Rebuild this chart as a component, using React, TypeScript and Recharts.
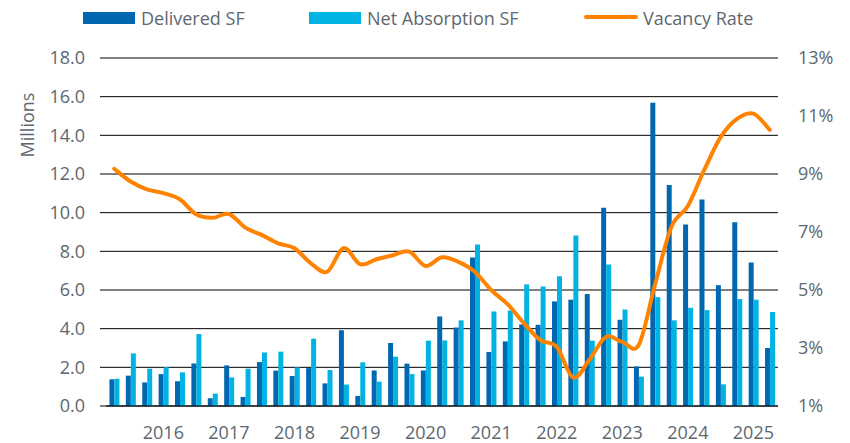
import React from 'react';
import { ComposedChart, Bar, Line, XAxis, YAxis, CartesianGrid } from 'recharts';

const quarters = [
  '2015Q2','2015Q3','2015Q4',
  '2016Q1','2016Q2','2016Q3','2016Q4',
  '2017Q1','2017Q2','2017Q3','2017Q4',
  '2018Q1','2018Q2','2018Q3','2018Q4',
  '2019Q1','2019Q2','2019Q3','2019Q4',
  '2020Q1','2020Q2','2020Q3','2020Q4',
  '2021Q1','2021Q2','2021Q3','2021Q4',
  '2022Q1','2022Q2','2022Q3','2022Q4',
  '2023Q1','2023Q2','2023Q3','2023Q4',
  '2024Q1','2024Q2','2024Q3','2024Q4',
  '2025Q1','2025Q2',
];

const deliveredSF = [
  1.38, 1.57, 1.22, 1.65, 1.28, 2.2, 0.4, 2.1, 0.47, 2.27,
  1.83, 1.55, 1.96, 1.17, 3.92, 0.52, 1.84, 3.26, 2.19, 1.84,
  4.63, 4.06, 7.68, 2.79, 3.34, 4.22, 4.2, 5.41, 5.5, 5.79,
  10.25, 4.46, 2.05, 15.69, 11.43, 9.39, 10.68, 6.25, 9.5, 7.42, 3.0,
];

const netAbsorptionSF = [
  1.41, 2.72, 1.93, 2.01, 1.74, 3.72, 0.64, 1.48, 1.93, 2.77,
  2.81, 2.0, 3.48, 1.86, 1.11, 2.26, 1.26, 2.55, 1.65, 3.38,
  3.39, 4.43, 8.35, 4.89, 4.94, 6.29, 6.18, 6.71, 8.82, 3.38,
  7.32, 4.99, 1.52, 5.63, 4.43, 5.08, 4.96, 1.12, 5.53, 5.5, 4.86,
];

const vacancyRate = [
  9.18, 8.74, 8.47, 8.34, 8.13, 7.61, 7.49, 7.62, 7.15, 6.9,
  6.61, 6.44, 5.92, 5.63, 6.45, 5.89, 6.06, 6.2, 6.32, 5.83,
  6.13, 5.97, 5.63, 5.0, 4.51, 3.85, 3.27, 3.04, 1.98, 2.6,
  3.38, 3.21, 3.1, 5.2, 7.18, 7.9, 9.14, 10.27, 10.9, 11.08, 10.52,
];

const leftTicks = [0, 2, 4, 6, 8, 10, 12, 14, 16, 18];
const rightTicks = [1, 3, 5, 7, 9, 11, 13];

const data = quarters.map((q, i) => ({
  q,
  delivered: deliveredSF[i],
  absorption: netAbsorptionSF[i],
  vacancy: vacancyRate[i],
}));

const DARK = '#0067B1';
const LIGHT = '#00B3E3';
const ORANGE = '#FF8200';
const TEXT = '#5d6770';
const FONT = '"Open Sans", sans-serif';

// Catmull-Rom style smoothing (like Excel smoothed lines)
const smoothCurve: any = (context: any) => {
  let pts: number[][] = [];
  return {
    areaStart() {},
    areaEnd() {},
    lineStart() {
      pts = [];
    },
    point(x: number, y: number) {
      pts.push([+x, +y]);
    },
    lineEnd() {
      if (!pts.length) return;
      context.moveTo(pts[0][0], pts[0][1]);
      const t = 1 / 6;
      for (let i = 0; i < pts.length - 1; i++) {
        const p0 = pts[i - 1] || pts[i];
        const p1 = pts[i];
        const p2 = pts[i + 1];
        const p3 = pts[i + 2] || p2;
        context.bezierCurveTo(
          p1[0] + (p2[0] - p0[0]) * t,
          p1[1] + (p2[1] - p0[1]) * t,
          p2[0] - (p3[0] - p1[0]) * t,
          p2[1] - (p3[1] - p1[1]) * t,
          p2[0],
          p2[1]
        );
      }
    },
  };
};

const legendText: React.CSSProperties = {
  position: 'absolute',
  top: 5,
  fontFamily: FONT,
  fontSize: 18,
  color: TEXT,
  lineHeight: '26px',
  whiteSpace: 'nowrap',
};

export default function App() {
  return (
    <div style={{ position: 'absolute', left: 0, top: 0, width: 850, height: 443, background: '#fff' }}>
      <div style={{ position: 'absolute', left: 83, top: 12, width: 52, height: 12, background: DARK }} />
      <div style={{ ...legendText, left: 141 }}>Delivered SF</div>
      <div style={{ position: 'absolute', left: 309, top: 12, width: 52, height: 12, background: LIGHT }} />
      <div style={{ ...legendText, left: 367 }}>Net Absorption SF</div>
      <div style={{ position: 'absolute', left: 584, top: 15, width: 54, height: 4, borderRadius: 2, background: ORANGE }} />
      <div style={{ ...legendText, left: 643 }}>Vacancy Rate</div>

      <ComposedChart
        width={850}
        height={443}
        data={data}
        margin={{ top: 58, right: 0, bottom: 0, left: 0 }}
        barGap={0}
        barCategoryGap="21%"
        style={{ position: 'absolute', left: 0, top: 0 }}
      >
        <CartesianGrid yAxisId="left" vertical={false} horizontal stroke="#000" strokeWidth={1} />
        <XAxis
          dataKey="q"
          height={37}
          interval={0}
          tickLine={false}
          axisLine={{ stroke: '#000' }}
          tickMargin={14}
          tick={{ fill: TEXT, fontSize: 18, fontFamily: FONT }}
          tickFormatter={(v: string) => (v.endsWith('Q1') ? v.slice(0, 4) : '')}
        />
        <YAxis
          yAxisId="left"
          orientation="left"
          width={106}
          domain={[0, 18]}
          ticks={leftTicks}
          interval={0}
          axisLine={false}
          tickLine={{ stroke: '#000' }}
          tickSize={6}
          tickMargin={15}
          tick={{ fill: TEXT, fontSize: 18, fontFamily: FONT }}
          tickFormatter={(v: number) => v.toFixed(1)}
          label={{
            content: () => (
              <text
                x={34}
                y={125}
                transform="rotate(-90, 34, 125)"
                textAnchor="middle"
                fill={TEXT}
                fontSize={18}
                fontFamily={FONT}
              >
                Millions
              </text>
            ),
          }}
        />
        <YAxis
          yAxisId="right"
          orientation="right"
          width={72}
          domain={[1, 13]}
          ticks={rightTicks}
          interval={0}
          axisLine={false}
          tickLine={false}
          tickSize={6}
          tickMargin={14}
          tick={{ fill: TEXT, fontSize: 18, fontFamily: FONT, textAnchor: 'start' }}
          tickFormatter={(v: number) => `${v}%`}
        />
        <Bar yAxisId="left" dataKey="delivered" fill={DARK} isAnimationActive={false} />
        <Bar yAxisId="left" dataKey="absorption" fill={LIGHT} isAnimationActive={false} />
        <Line
          yAxisId="right"
          dataKey="vacancy"
          type={smoothCurve}
          stroke={ORANGE}
          strokeWidth={4}
          dot={false}
          activeDot={false}
          strokeLinecap="round"
          isAnimationActive={false}
        />
      </ComposedChart>
    </div>
  );
}
